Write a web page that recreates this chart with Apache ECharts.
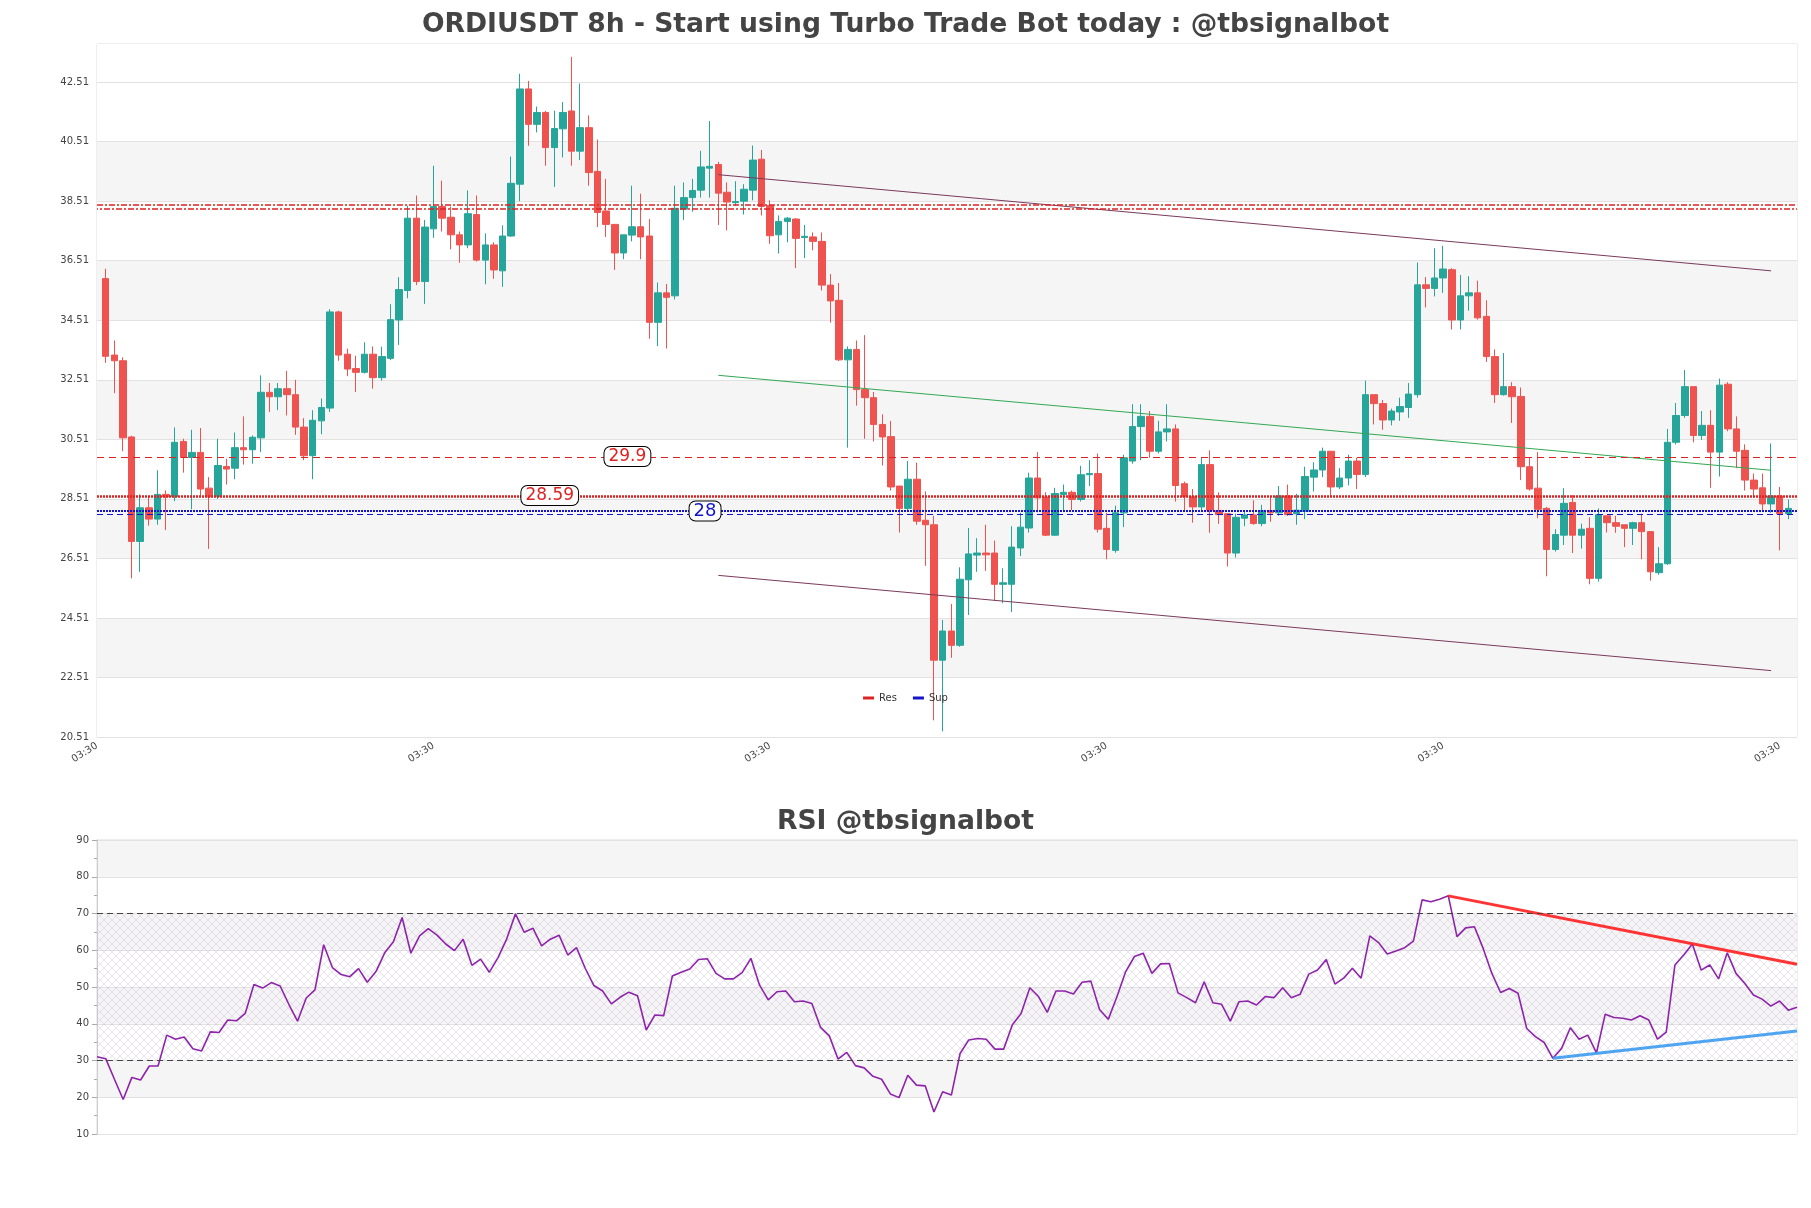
<!DOCTYPE html>
<html><head><meta charset="utf-8">
<script src="https://cdn.jsdelivr.net/npm/echarts/dist/echarts.min.js"></script>
<style>html,body{margin:0;padding:0;background:#fff}#main{width:1811px;height:1208px}</style>
</head><body><div id="main"></div>
<script>
// x-axis category labels (8h bars, main chart)
const timeLabels = [
'03:30','11:30','19:30','03:30','11:30','19:30','03:30','11:30','19:30',
'03:30','11:30','19:30','03:30','11:30','19:30','03:30','11:30','19:30',
'03:30','11:30','19:30','03:30','11:30','19:30','03:30','11:30','19:30',
'03:30','11:30','19:30','03:30','11:30','19:30','03:30','11:30','19:30',
'03:30','11:30','19:30','03:30','11:30','19:30','03:30','11:30','19:30',
'03:30','11:30','19:30','03:30','11:30','19:30','03:30','11:30','19:30',
'03:30','11:30','19:30','03:30','11:30','19:30','03:30','11:30','19:30',
'03:30','11:30','19:30','03:30','11:30','19:30','03:30','11:30','19:30',
'03:30','11:30','19:30','03:30','11:30','19:30','03:30','11:30','19:30',
'03:30','11:30','19:30','03:30','11:30','19:30','03:30','11:30','19:30',
'03:30','11:30','19:30','03:30','11:30','19:30','03:30','11:30','19:30',
'03:30','11:30','19:30','03:30','11:30','19:30','03:30','11:30','19:30',
'03:30','11:30','19:30','03:30','11:30','19:30','03:30','11:30','19:30',
'03:30','11:30','19:30','03:30','11:30','19:30','03:30','11:30','19:30',
'03:30','11:30','19:30','03:30','11:30','19:30','03:30','11:30','19:30',
'03:30','11:30','19:30','03:30','11:30','19:30','03:30','11:30','19:30',
'03:30','11:30','19:30','03:30','11:30','19:30','03:30','11:30','19:30',
'03:30','11:30','19:30','03:30','11:30','19:30','03:30','11:30','19:30',
'03:30','11:30','19:30','03:30','11:30','19:30','03:30','11:30','19:30',
'03:30','11:30','19:30','03:30','11:30','19:30','03:30','11:30','19:30',
'03:30','11:30','19:30','03:30','11:30','19:30','03:30','11:30','19:30',
'03:30','11:30','19:30','03:30','11:30','19:30','03:30','11:30','19:30'
];

// candles: [open, close, low, high]
const candles = [
[35.91,33.30,33.08,36.24],[33.34,33.15,32.06,33.83],[33.15,30.56,30.11,33.26],[30.59,27.08,25.84,30.63],
[27.08,28.21,26.06,28.66],[28.21,27.83,27.61,28.58],[27.83,28.66,27.64,29.47],[28.66,28.58,27.46,28.79],
[28.58,30.41,28.43,30.91],[30.44,29.90,29.39,30.53],[29.90,30.07,28.16,30.83],[30.07,28.84,28.61,30.89],
[28.87,28.58,26.83,29.24],[28.58,29.63,28.51,30.53],[29.60,29.51,28.99,29.86],[29.54,30.23,29.17,30.74],
[30.23,30.16,29.66,31.28],[30.16,30.58,29.69,30.64],[30.56,32.09,30.08,32.66],[32.09,31.94,31.43,32.40],
[31.94,32.21,31.49,32.40],[32.21,32.01,31.31,32.81],[32.01,30.92,30.66,32.51],[30.92,29.96,29.81,31.22],
[29.96,31.15,29.17,31.49],[31.13,31.58,30.68,31.88],[31.56,34.79,31.43,34.88],[34.79,33.34,33.15,34.83],
[33.37,32.87,32.63,33.56],[32.89,32.76,32.10,33.32],[32.76,33.37,32.72,33.77],[33.37,32.58,32.21,33.63],
[32.58,33.29,32.48,33.62],[33.23,34.53,33.17,35.05],[34.52,35.54,33.68,35.96],[35.51,37.94,35.25,38.36],
[37.94,35.81,35.69,38.70],[35.81,37.64,35.06,37.88],[37.58,38.33,37.28,39.70],[38.33,37.94,37.49,39.20],
[37.97,37.38,36.89,38.33],[37.38,37.04,36.44,37.49],[37.04,38.09,36.93,38.87],[38.06,36.53,36.48,38.70],
[36.53,37.04,35.72,37.43],[37.04,36.20,35.90,37.13],[36.17,37.34,35.63,37.70],[37.34,39.11,37.31,40.01],
[39.08,42.28,38.51,42.79],[42.28,41.09,40.37,42.55],[41.09,41.49,40.82,41.69],[41.49,40.31,39.70,41.54],
[40.31,40.95,38.99,41.55],[40.94,41.49,39.98,41.84],[41.54,40.19,39.70,43.36],[40.19,40.98,39.89,42.46],
[40.98,39.47,39.03,41.39],[39.51,38.13,37.64,40.58],[38.18,37.73,37.31,39.26],[37.73,36.77,36.20,37.73],
[36.77,37.38,36.56,37.38],[37.37,37.65,37.16,39.03],[37.65,37.31,36.56,38.76],[37.34,34.44,33.89,37.91],
[34.44,35.43,33.64,35.78],[35.43,35.28,33.56,35.73],[35.33,38.27,35.21,39.03],[38.24,38.63,37.88,39.14],
[38.63,38.87,38.16,39.26],[38.88,39.66,38.63,40.20],[39.62,39.68,38.63,41.20],[39.74,38.78,37.71,39.83],
[38.81,38.48,37.53,39.14],[38.46,38.50,38.36,39.18],[38.51,38.91,38.06,39.08],[38.88,39.89,38.54,40.38],
[39.92,38.33,38.03,40.23],[38.36,37.35,37.08,38.54],[37.38,37.83,36.75,38.03],[37.83,37.94,37.13,37.98],
[37.91,37.26,36.26,37.94],[37.29,37.33,36.60,37.71],[37.31,37.16,36.86,37.46],[37.16,35.69,35.51,37.46],
[35.69,35.16,34.43,36.06],[35.18,33.18,33.14,35.76],[33.18,33.53,30.23,33.63],[33.53,32.18,31.64,33.83],
[32.18,31.91,30.53,34.01],[31.91,31.01,30.44,32.10],[31.01,30.59,29.63,31.35],[30.60,28.91,28.79,31.13],
[28.94,28.19,27.38,28.94],[28.19,29.17,28.13,29.78],[29.17,27.76,27.64,29.73],[27.79,27.64,26.26,28.76],
[27.64,23.09,21.07,27.94],[23.09,24.07,20.70,24.44],[24.07,23.59,23.17,24.98],[23.59,25.81,23.54,26.21],
[25.79,26.66,24.61,27.53],[26.62,26.69,26.06,27.19],[26.69,26.63,26.09,27.64],[26.69,25.64,25.09,27.11],
[25.64,25.69,25.01,26.18],[25.64,26.89,24.71,27.59],[26.86,27.56,26.59,28.04],[27.53,29.21,27.38,29.39],
[29.21,28.54,28.06,30.08],[28.57,27.29,27.26,28.73],[27.29,28.69,27.26,28.88],[28.66,28.73,28.09,28.99],
[28.73,28.49,28.13,28.79],[28.49,29.32,28.42,29.62],[29.32,29.36,28.94,29.81],[29.36,27.49,27.38,30.03],
[27.52,26.81,26.48,28.04],[26.78,28.04,26.70,28.28],[28.04,29.89,27.56,29.99],[29.78,30.94,29.69,31.69],
[30.94,31.28,29.81,31.69],[31.28,30.11,29.89,31.46],[30.11,30.76,30.04,31.13],[30.76,30.86,30.44,31.69],
[30.86,28.96,28.42,31.01],[29.02,28.58,28.09,29.09],[28.58,28.24,27.71,28.84],[28.24,29.66,28.12,29.89],
[29.66,28.13,27.37,30.14],[28.12,27.98,27.67,28.73],[28.01,26.69,26.24,28.01],[26.69,27.89,26.54,28.01],
[27.86,27.97,27.59,28.13],[27.97,27.68,27.64,28.46],[27.68,28.12,27.59,28.31],[28.12,28.04,27.74,28.57],
[28.04,28.61,27.94,28.94],[28.61,27.98,27.94,28.99],[28.01,28.13,27.64,28.68],[28.09,29.26,27.83,29.59],
[29.24,29.48,28.76,29.74],[29.48,30.11,29.24,30.23],[30.11,28.91,28.58,30.11],[28.91,29.21,28.84,29.54],
[29.21,29.78,28.96,29.99],[29.78,29.33,28.84,29.89],[29.33,32.01,29.24,32.48],[32.01,31.71,31.01,32.01],
[31.71,31.16,30.83,31.83],[31.16,31.46,30.98,31.54],[31.43,31.61,31.13,31.91],[31.58,32.03,31.23,32.40],
[32.01,35.70,31.91,36.45],[35.70,35.58,34.94,35.96],[35.58,35.93,35.31,36.93],[35.93,36.23,35.43,37.01],
[36.21,34.52,34.20,36.26],[34.52,35.33,34.20,36.03],[35.33,35.43,34.83,35.99],[35.43,34.59,34.53,35.84],
[34.64,33.29,33.11,35.18],[33.29,32.01,31.73,33.53],[32.01,32.28,31.98,33.41],[32.28,31.94,31.06,32.43],
[31.95,29.59,29.14,32.25],[29.59,28.84,28.79,29.89],[28.87,28.16,27.86,30.08],[28.19,26.81,25.91,28.24],
[26.81,27.31,26.74,27.49],[27.29,28.36,26.96,28.87],[28.39,27.29,26.69,28.64],[27.29,27.49,26.84,27.68],
[27.52,25.84,25.64,27.89],[25.84,27.98,25.73,28.19],[27.94,27.71,27.38,27.94],[27.71,27.59,27.37,27.94],
[27.64,27.52,26.89,27.64],[27.52,27.71,26.96,27.74],[27.71,27.41,26.48,28.01],[27.41,26.06,25.76,27.41],
[26.03,26.33,25.96,26.89],[26.33,30.41,26.29,30.86],[30.41,31.31,30.34,31.73],[31.31,32.28,31.23,32.84],
[32.28,30.64,30.41,32.28],[30.64,30.98,30.49,31.46],[30.98,30.08,28.88,31.49],[30.08,32.33,29.26,32.55],
[32.36,30.86,30.78,32.43],[30.86,30.11,29.54,31.28],[30.14,29.14,28.79,30.34],[29.14,28.84,28.54,29.36],
[28.88,28.34,28.09,29.36],[28.34,28.61,28.04,30.37],[28.61,28.01,26.78,28.91],[28.01,28.19,27.83,28.49]
];
// first candle sits on category 1 of the main axis
const candleStartCategory = 1;

// RSI values, one per candle
const rsiValues = [
31.0,30.5,24.9,19.4,25.4,24.7,28.5,28.5,36.9,35.8,
36.4,33.2,32.6,37.8,37.6,41.0,40.8,42.8,50.7,49.7,
51.2,50.3,45.3,40.7,47.0,49.2,61.5,55.3,53.4,52.8,
55.0,51.3,54.2,59.3,62.3,68.9,59.2,63.9,65.9,64.1,
61.7,59.9,63.0,55.9,57.6,54.0,58.0,63.1,69.9,64.9,
66.0,61.2,63.0,64.1,58.7,60.7,55.1,50.4,48.9,45.4,
47.2,48.6,47.6,38.3,42.4,42.2,53.0,54.0,54.9,57.5,
57.7,53.7,52.2,52.2,53.9,57.8,50.5,46.5,48.7,48.9,
46.0,46.2,45.5,39.0,36.7,30.4,32.2,28.6,28.0,25.7,
24.9,20.9,19.9,26.0,23.3,23.1,16.0,21.5,20.6,31.9,
35.6,36.0,35.8,33.1,33.1,39.7,42.8,49.8,47.4,43.1,
48.9,48.9,48.1,51.3,51.6,43.9,41.2,47.4,54.2,58.3,
59.2,53.7,56.3,56.4,48.4,47.1,45.7,51.4,45.7,45.3,
40.7,46.0,46.2,45.1,47.4,47.1,49.8,47.1,48.0,53.5,
54.6,57.5,50.8,52.4,55.1,52.4,63.9,62.1,59.0,59.8,
60.7,62.5,73.7,73.2,73.9,74.8,63.7,66.1,66.4,60.5,
53.7,48.5,49.6,48.3,38.7,36.5,34.9,30.6,33.3,38.9,
35.8,36.9,32.1,42.6,41.7,41.5,41.0,42.2,41.0,35.8,
37.7,56.0,58.7,61.7,54.6,56.0,52.2,59.3,53.7,51.0,
47.8,46.7,44.8,46.2,43.7,44.5
];

// price axis
const priceMin = 20.51, priceMax = 43.79, priceStep = 2;
const topBandStart = 42.51;
// RSI axis
const rsiMin = 10, rsiMax = 90, rsiStep = 10;
const rsiBands = [30, 70];

// resistance / support levels
const resDashed = [38.40, 38.26];
const resMain = 29.9;
const resDotted = 28.59;
const supDotted = 28.10;
const supDashed = 28.00;
// level labels: [category, value, text]
const resLabels = [[61, 29.9, '29.9'], [52, 28.59, '28.59']];
const supLabels = [[70, 28.10, '28']];

// channel lines: category positions and values
const channelCats = [72, 194];
const channelUpper = [39.40, 36.17];
const channelMid = [32.66, 29.47];
const channelLower = [25.94, 22.74];

// RSI trend lines: [rsi index, value]
const rsiResLine = [[155, 74.8], [195, 56.2]];
const rsiSupLine = [[167, 30.6], [195, 38.0]];

const rsiCategories = timeLabels.slice(candleStartCategory, candleStartCategory + rsiValues.length);
const candleData = candles.map((c, i) => [i + candleStartCategory, c[0], c[1], c[2], c[3]]);
const pair = (xs, ys) => xs.map((x, i) => [x, ys[i]]);

// hatch pattern for RSI 30-70 zone
const pc = document.createElement('canvas');
pc.width = 8; pc.height = 8;
const pctx = pc.getContext('2d');
pctx.strokeStyle = 'rgba(165,145,195,0.34)';
pctx.lineWidth = 0.7;
pctx.beginPath();
pctx.moveTo(0, 0); pctx.lineTo(8, 8);
pctx.moveTo(8, 0); pctx.lineTo(0, 8);
pctx.stroke();

const FONT = 'DejaVu Sans';
const RED = '#dd2222', BLUE = '#1414cc';

const chart = echarts.init(document.getElementById('main'));
const labelBox = (color, size) => ({
  show: true, position: 'inside', formatter: '{b}', color: color, fontSize: size, fontFamily: FONT,
  backgroundColor: '#ffffff', borderColor: '#000000', borderWidth: 1, borderRadius: 6,
  padding: [0, 4], lineHeight: 19
});

chart.setOption({
  animation: false,
  backgroundColor: '#ffffff',
  title: [
    { text: 'ORDIUSDT 8h - Start using Turbo Trade Bot today : @tbsignalbot', left: 'center', top: 7,
      textStyle: { fontSize: 26.6, fontWeight: 'bold', color: '#444444', fontFamily: FONT } },
    { text: 'RSI @tbsignalbot', left: 'center', top: 804,
      textStyle: { fontSize: 26.6, fontWeight: 'bold', color: '#444444', fontFamily: FONT } }
  ],
  legend: {
    data: ['Res', 'Sup'], left: 'center', top: 688, icon: 'rect', itemWidth: 11, itemHeight: 3,
    itemGap: 16, textStyle: { fontSize: 10, color: '#333', fontFamily: FONT }
  },
  grid: [
    { left: 97, top: 44, width: 1700, height: 693, show: true, borderColor: '#dddddd', borderWidth: 1 },
    { left: 97, top: 840, width: 1700, height: 294, show: true, borderColor: '#dddddd', borderWidth: 1 }
  ],
  xAxis: [
    { type: 'category', gridIndex: 0, data: timeLabels, boundaryGap: false,
      axisLine: { show: false }, axisTick: { show: false }, splitLine: { show: false },
      axisLabel: { interval: 38, rotate: 32, fontSize: 10, color: '#444', fontFamily: FONT, margin: 8 } },
    { type: 'category', gridIndex: 1, data: rsiCategories, boundaryGap: false,
      axisLine: { show: false }, axisTick: { show: false }, axisLabel: { show: false }, splitLine: { show: false } }
  ],
  yAxis: [
    { type: 'value', gridIndex: 0, min: priceMin, max: priceMax, interval: priceStep,
      axisLine: { show: false }, axisTick: { show: false },
      axisLabel: { fontSize: 10, color: '#444', fontFamily: FONT, showMaxLabel: false,
        formatter: v => v.toFixed(2) },
      splitLine: { show: true, lineStyle: { color: '#e2e2e2' } },
      splitArea: { show: true, areaStyle: { color: ['#ffffff', '#f5f5f5'] } } },
    { type: 'value', gridIndex: 1, min: rsiMin, max: rsiMax, interval: rsiStep,
      axisLine: { show: true, lineStyle: { color: '#cccccc' } },
      axisTick: { show: true, length: 5, lineStyle: { color: '#aaaaaa' } },
      minorTick: { show: true, splitNumber: 2, length: 3, lineStyle: { color: '#aaaaaa' } },
      axisLabel: { fontSize: 10, color: '#444', fontFamily: FONT },
      splitLine: { show: true, lineStyle: { color: '#e2e2e2' } },
      splitArea: { show: true, areaStyle: { color: ['#ffffff', '#f5f5f5'] } } }
  ],
  series: [
    { type: 'candlestick', name: 'ORDIUSDT', xAxisIndex: 0, yAxisIndex: 0, data: candleData,
      encode: { x: 0, y: [1, 2, 3, 4] }, barWidth: 7,
      itemStyle: { color: '#26a69a', color0: '#ef5350', borderColor: '#26a69a', borderColor0: '#ef5350', borderWidth: 1 },
      markArea: { silent: true, z: 1, itemStyle: { color: '#ffffff' },
        data: [[{ yAxis: topBandStart }, { yAxis: priceMax }]] } },
    { type: 'line', name: 'Res', xAxisIndex: 0, yAxisIndex: 0, data: [], color: RED,
      markLine: { silent: true, symbol: ['none', 'none'], label: { show: false }, animation: false,
        data: [
          { yAxis: resDashed[0], lineStyle: { color: RED, type: [6, 2, 2, 2], width: 1.6 } },
          { yAxis: resDashed[1], lineStyle: { color: RED, type: [6, 2, 2, 2], dashOffset: 5, width: 1.6 } },
          { yAxis: resMain, lineStyle: { color: RED, type: [7, 5], width: 1.2 } },
          { yAxis: resDotted, lineStyle: { color: RED, type: [2, 1], width: 2.5 } }
        ] },
      markPoint: { silent: true, symbol: 'rect', symbolSize: 1, itemStyle: { color: 'rgba(0,0,0,0)' },
        label: labelBox(RED, 17),
        data: resLabels.map(l => ({ name: l[2], coord: [l[0], l[1]], label: { offset: [4, -1] } })) } },
    { type: 'line', name: 'Sup', xAxisIndex: 0, yAxisIndex: 0, data: [], color: BLUE,
      markLine: { silent: true, symbol: ['none', 'none'], label: { show: false }, animation: false,
        data: [
          { yAxis: supDotted, lineStyle: { color: BLUE, type: [2, 1], width: 2 } },
          { yAxis: supDashed, lineStyle: { color: BLUE, type: [6, 4], width: 1.2 } }
        ] },
      markPoint: { silent: true, symbol: 'rect', symbolSize: 1, itemStyle: { color: 'rgba(0,0,0,0)' },
        label: labelBox(BLUE, 18),
        data: supLabels.map(l => ({ name: l[2], coord: [l[0], l[1]], label: { offset: [4, 0] } })) } },
    { type: 'line', name: 'upper', xAxisIndex: 0, yAxisIndex: 0, data: pair(channelCats, channelUpper),
      symbol: 'none', silent: true, lineStyle: { color: '#7a3a5c', width: 1 } },
    { type: 'line', name: 'mid', xAxisIndex: 0, yAxisIndex: 0, data: pair(channelCats, channelMid),
      symbol: 'none', silent: true, lineStyle: { color: '#33a853', width: 1 } },
    { type: 'line', name: 'lower', xAxisIndex: 0, yAxisIndex: 0, data: pair(channelCats, channelLower),
      symbol: 'none', silent: true, lineStyle: { color: '#7a3a5c', width: 1 } },
    { type: 'line', name: 'RSI', xAxisIndex: 1, yAxisIndex: 1, data: rsiValues, symbol: 'none',
      lineStyle: { color: '#8e24aa', width: 1.6 },
      markArea: { silent: true, itemStyle: { color: { image: pc, repeat: 'repeat' } },
        data: [[{ yAxis: rsiBands[0] }, { yAxis: rsiBands[1] }]] },
      markLine: { silent: true, symbol: ['none', 'none'], label: { show: false },
        lineStyle: { color: '#444444', type: [6, 4], width: 1 },
        data: [{ yAxis: rsiBands[1] }, { yAxis: rsiBands[0] }] } },
    { type: 'line', name: 'rsiRes', xAxisIndex: 1, yAxisIndex: 1, data: rsiResLine, symbol: 'none',
      silent: true, lineStyle: { color: 'rgba(255,30,30,0.9)', width: 3 } },
    { type: 'line', name: 'rsiSup', xAxisIndex: 1, yAxisIndex: 1, data: rsiSupLine, symbol: 'none',
      silent: true, lineStyle: { color: 'rgba(60,155,240,0.9)', width: 3 } }
  ]
});
</script>
</body></html>
